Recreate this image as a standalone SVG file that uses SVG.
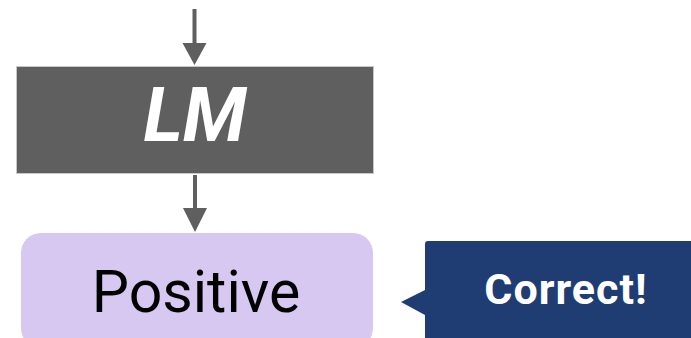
<svg xmlns="http://www.w3.org/2000/svg" width="691" height="338" viewBox="0 0 691 338">
  <style>
    .conn { stroke: #5f5f5f; stroke-width: 4; fill: none; }
    .head { fill: #5f5f5f; }
    .lm-box { fill: #5f5f5f; stroke: #c8c8c8; stroke-width: 1; }
    .lm-text { font-family: Roboto, "Liberation Sans", sans-serif; font-weight: 700; font-style: italic; font-size: 75px; fill: #ffffff; text-anchor: middle; }
    .out-box { fill: #d7c8f1; }
    .out-text { font-family: Roboto, "Liberation Sans", sans-serif; font-size: 59px; fill: #000000; text-anchor: middle; }
    .tag-box { fill: #1f3d73; }
    .tag-text { font-family: Roboto, "Liberation Sans", sans-serif; font-weight: 700; font-size: 43px; letter-spacing: 1px; fill: #ffffff; text-anchor: middle; }
  </style>
  <rect width="691" height="338" fill="#ffffff"/>

  <g id="connectors">
    <line class="conn" x1="194.5" y1="9" x2="194.5" y2="45"/>
    <polygon class="head" points="182.5,43 206.5,43 194.5,65"/>
    <line class="conn" x1="195" y1="175" x2="195" y2="210"/>
    <polygon class="head" points="183,208 207,208 195,232"/>
  </g>

  <g id="lm">
    <rect class="lm-box" x="16.5" y="66.5" width="357" height="107"/>
    <text class="lm-text" x="195" y="141">LM</text>
  </g>

  <g id="positive">
    <rect class="out-box" x="21" y="233" width="352" height="115" rx="20" ry="20"/>
    <text class="out-text" x="196" y="312">Positive</text>
  </g>

  <g id="correct">
    <path class="tag-box" d="M428,241 H700 V345 H425 V315 L401,302 L425,290 V244 A3,3 0 0 1 428,241 Z"/>
    <text class="tag-text" x="566" y="304">Correct!</text>
  </g>
</svg>
